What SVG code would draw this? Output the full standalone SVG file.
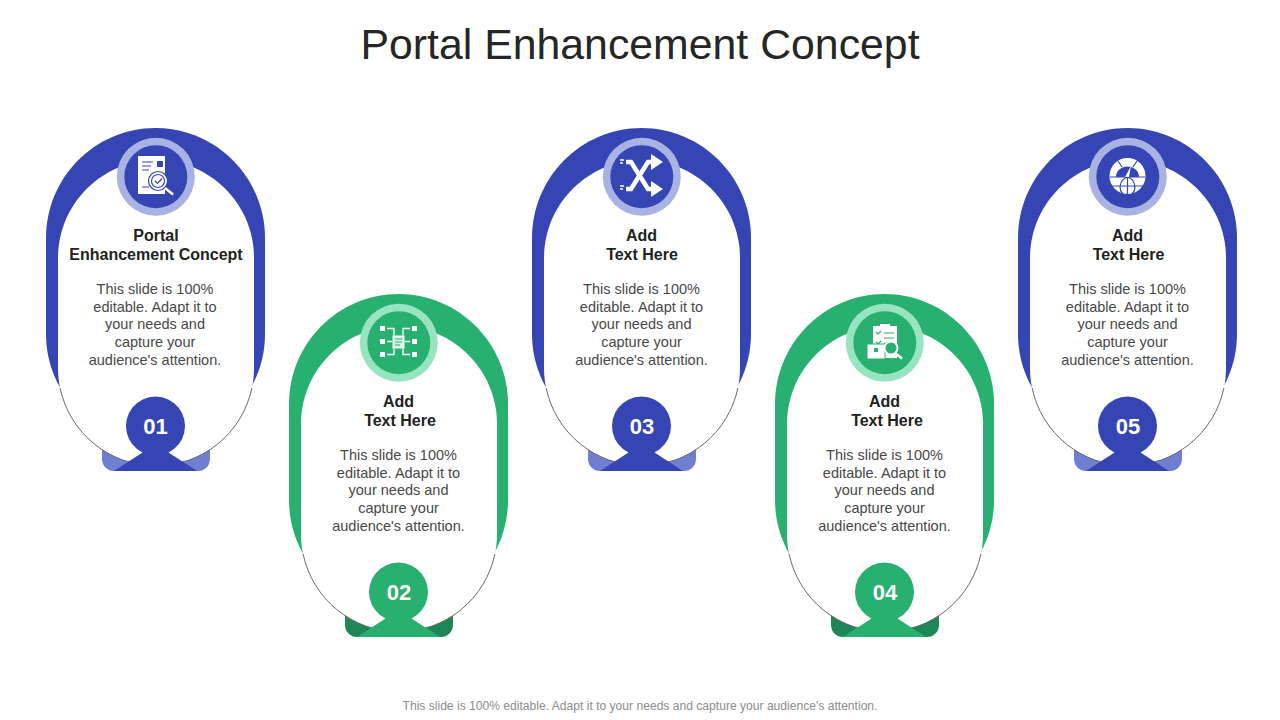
<svg xmlns="http://www.w3.org/2000/svg" width="1280" height="720" viewBox="0 0 1280 720">
<style>
text{font-family:"Liberation Sans",Arial,sans-serif;text-anchor:middle}
.title{font-size:42.8px;fill:#262626}
.head{font-size:16px;font-weight:bold;fill:#222}
.body{font-size:14.5px;fill:#484848}
.num{font-size:22px;font-weight:bold;fill:#fff}
.foot{font-size:12.1px;fill:#8c8c8c}
.b{--main:#3546b4;--ring:#a9b3e3;--tab:#6f7fd2}
.g{--main:#28b071;--ring:#98e4c0;--tab:#1f8757}
.main{fill:var(--main)}.ring{fill:var(--ring)}.tab{fill:var(--tab)}
.inner{fill:#fff}
.edge{fill:none;stroke:#444;stroke-width:.8}
.w{fill:#fff}
.ws{fill:none;stroke:#fff;stroke-width:1.3}
.ws2{fill:none;stroke:#fff;stroke-width:4.5}
.bl{stroke:#3546b4;stroke-width:1.2;fill:none}
.gl{stroke:#28b071;stroke-width:1.2;fill:none}
</style>
<defs>
<g id="card">
<rect class="tab" x="-53.5" y="284" width="108" height="59" rx="12"/>
<path class="main" d="M-109.500 110C-109.500 49.500-60.500 0 0 0S109.500 49.500 109.500 110V206C109.500 266.500 60.500 315 0 315S-109.500 266.500-109.500 206Z"/>
<g transform="translate(.5 0)">
<path class="inner" d="M-98 130C-98 76-54 32 0 32S98 76 98 130V240C98 294 54 338 0 338S-98 294-98 240Z"/>
<path class="edge" d="M-95.900 260A98 98 0 0 0 95.900 260"/>
</g>
<path class="main" d="M-41.500 343L-13 324.500A29.500 29.500 0 1 1 13 324.500L41.500 343Z"/>
<circle class="ring" cx=".3" cy="48.700" r="39"/>
<circle class="main" cx=".3" cy="48.700" r="31.500"/>
</g>
</defs>
<text class="title" x="640" y="58.500">Portal Enhancement Concept</text>

<g id="node-1" class="b">
<use href="#card" x="155.500" y="128"/>
<rect class="w" x="138" y="156" width="27" height="38"/>
<path class="bl" d="M142 162h11M142 166h9M142 170h7M142 187h7"/>
<rect x="157" y="161" width="6" height="6" fill="#3546b4"/>
<circle cx="158" cy="181" r="9.500" fill="#fff" stroke="#3546b4" stroke-width="1.200"/>
<circle cx="158" cy="181" r="6.500" class="bl"/>
<path class="bl" d="M155 181l2.500 2.500 4.500-5"/>
<path d="M165 188l8 6.500" stroke="#fff" stroke-width="2.500" fill="none"/>
<text class="head" x="156" y="241">Portal</text>
<text class="head" x="156" y="260">Enhancement Concept</text>
<text class="body" x="155" y="294">This slide is 100%</text>
<text class="body" x="155" y="312">editable. Adapt it to</text>
<text class="body" x="155" y="329">your needs and</text>
<text class="body" x="155" y="347">capture your</text>
<text class="body" x="155" y="365">audience's attention.</text>
<text class="num" x="155.500" y="434">01</text>
</g>

<g id="node-2" class="g">
<use href="#card" x="398.500" y="294"/>
<rect class="w" x="380" y="326" width="5" height="5"/><rect class="w" x="380" y="339" width="5" height="5"/><rect class="w" x="380" y="352" width="5" height="5"/>
<rect class="w" x="412" y="326" width="5" height="5"/><rect class="w" x="412" y="339" width="5" height="5"/><rect class="w" x="412" y="352" width="5" height="5"/>
<path class="ws" d="M387 328.500h7v7M387 341.500h5M387 354.500h7v-6M410 328.500h-7v7M410 341.500h-5M410 354.500h-7v-6"/>
<rect x="393" y="336" width="11" height="12" fill="#d8f5e6" stroke="#fff"/>
<path class="gl" d="M395 339h7M395 342h7M395 345h5"/>
<text class="head" x="398.500" y="407">Add</text>
<text class="head" x="400" y="426">Text Here</text>
<text class="body" x="398.500" y="460">This slide is 100%</text>
<text class="body" x="398.500" y="478">editable. Adapt it to</text>
<text class="body" x="398.500" y="495">your needs and</text>
<text class="body" x="398.500" y="513">capture your</text>
<text class="body" x="398.500" y="531">audience's attention.</text>
<text class="num" x="399" y="600">02</text>
</g>

<g id="node-3" class="b">
<use href="#card" x="641.500" y="128"/>
<path class="ws2" d="M626 162h5l17 27h6M626 189h5l17-27h6"/>
<path class="w" d="M651 154l12 8-12 8ZM651 181l12 8-12 8Z"/>
<path class="ws" d="M620 160h4M620 163h3M620 186h4M620 189h3"/>
<text class="head" x="641.500" y="241">Add</text>
<text class="head" x="642" y="260">Text Here</text>
<text class="body" x="641.500" y="294">This slide is 100%</text>
<text class="body" x="641.500" y="312">editable. Adapt it to</text>
<text class="body" x="641.500" y="329">your needs and</text>
<text class="body" x="641.500" y="347">capture your</text>
<text class="body" x="641.500" y="365">audience's attention.</text>
<text class="num" x="642" y="434">03</text>
</g>

<g id="node-4" class="g">
<use href="#card" x="884.500" y="294"/>
<rect class="w" x="873" y="326" width="24" height="32"/>
<rect class="w" x="880" y="324" width="10" height="4"/>
<path class="gl" d="M876 332l2 2 3-3M876 342l2 2 3-3M884 333h10M884 338h10M884 343h5"/>
<rect class="w" x="867" y="344" width="18" height="15" stroke="#28b071"/>
<rect x="874" y="348" width="4" height="4" fill="#28b071"/>
<circle cx="891" cy="348" r="6.500" fill="#28b071" stroke="#fff" stroke-width="2"/>
<path d="M895 353l7 5.500" stroke="#fff" stroke-width="2.500" fill="none"/>
<text class="head" x="884.500" y="407">Add</text>
<text class="head" x="887" y="426">Text Here</text>
<text class="body" x="884.500" y="460">This slide is 100%</text>
<text class="body" x="884.500" y="478">editable. Adapt it to</text>
<text class="body" x="884.500" y="495">your needs and</text>
<text class="body" x="884.500" y="513">capture your</text>
<text class="body" x="884.500" y="531">audience's attention.</text>
<text class="num" x="885" y="600">04</text>
</g>

<g id="node-5" class="b">
<use href="#card" x="1127.500" y="128"/>
<circle class="w" cx="1127.500" cy="176" r="18"/>
<path d="M1116 177a11.500 10.500 0 0 1 23 0Z" fill="#3546b4"/>
<path class="bl" d="M1110 177h35M1127.500 177v17M1118 161l4 6M1137 161l-4 6M1112 186h31M1127.500 177c-9 3-9 14-4 17M1127.500 177c9 3 9 14 4 17"/>
<path d="M1125 177l6-11-2 11Z" fill="#fff"/>
<text class="head" x="1127.500" y="241">Add</text>
<text class="head" x="1128.500" y="260">Text Here</text>
<text class="body" x="1127.500" y="294">This slide is 100%</text>
<text class="body" x="1127.500" y="312">editable. Adapt it to</text>
<text class="body" x="1127.500" y="329">your needs and</text>
<text class="body" x="1127.500" y="347">capture your</text>
<text class="body" x="1127.500" y="365">audience's attention.</text>
<text class="num" x="1128" y="434">05</text>
</g>

<g id="connectors"></g>
<text class="foot" x="640" y="710">This slide is 100% editable. Adapt it to your needs and capture your audience's attention.</text>
</svg>
